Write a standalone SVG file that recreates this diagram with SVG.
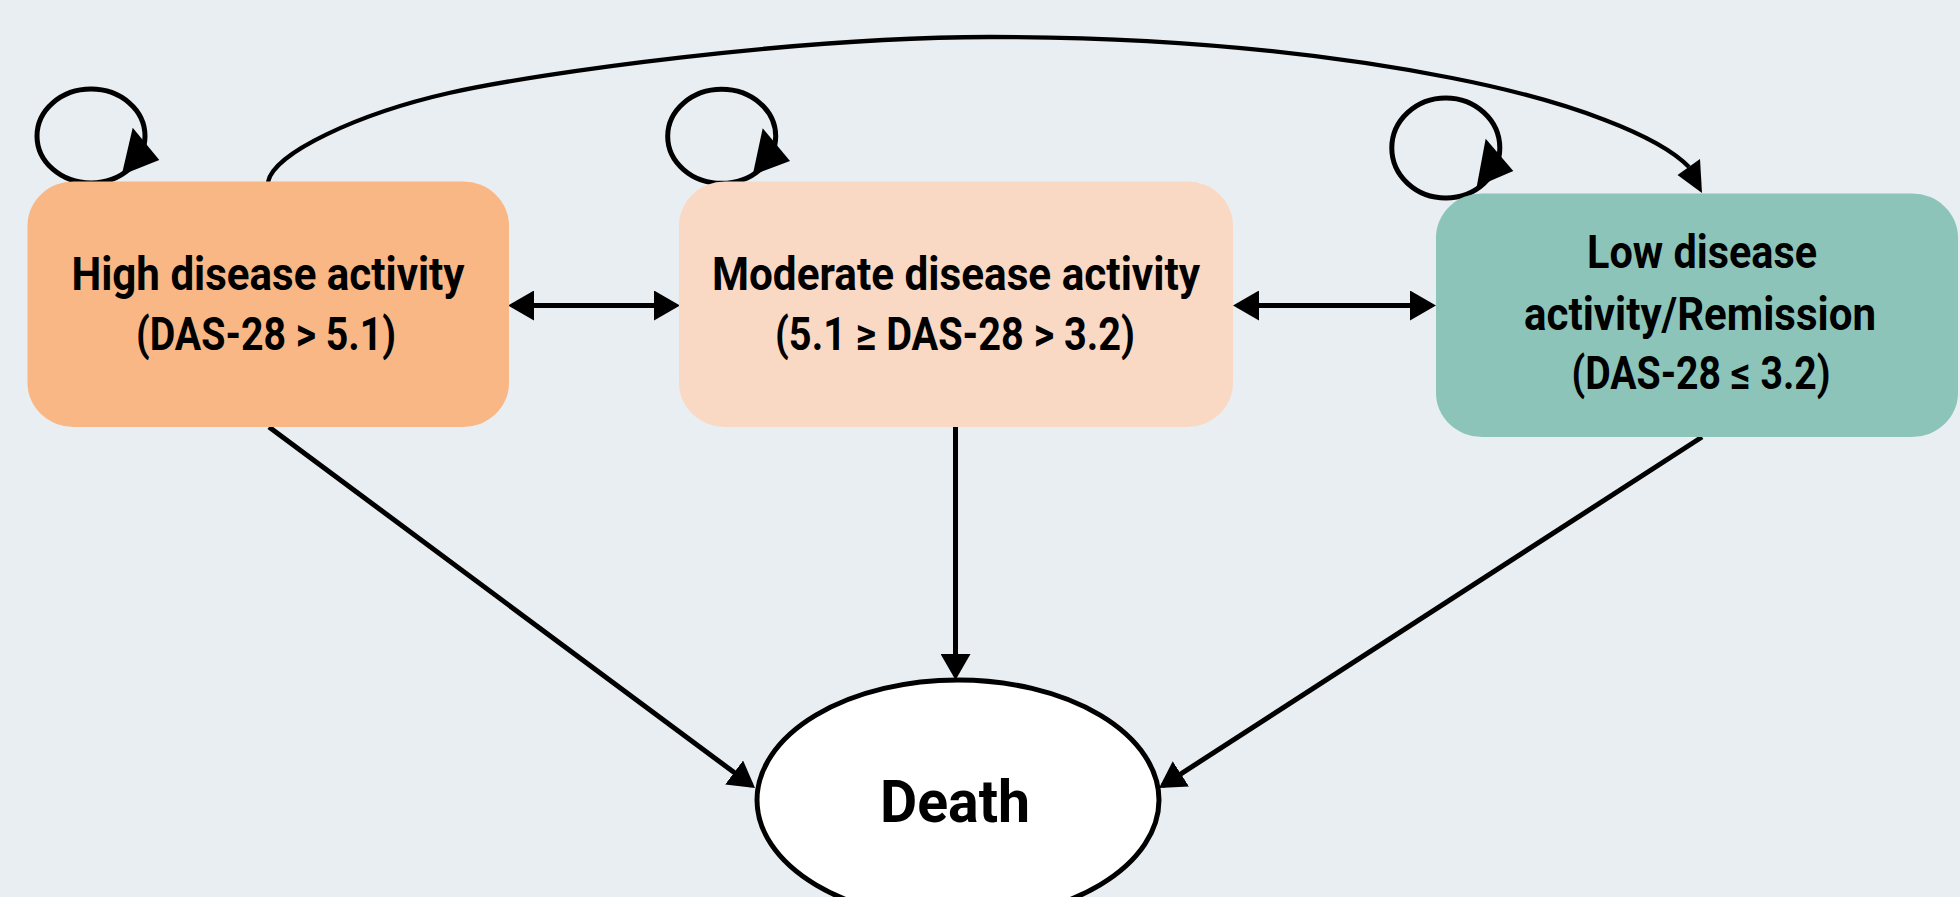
<svg xmlns="http://www.w3.org/2000/svg" width="1960" height="897" viewBox="0 0 1960 897">
  <style>
    .lbl { font-family: Roboto, "Liberation Sans", sans-serif; font-weight: bold; font-size: 46px; fill: #000; text-anchor: middle; }
    .death { font-family: Roboto, "Liberation Sans", sans-serif; font-weight: bold; font-size: 60px; fill: #000; text-anchor: middle; }
    .edge { fill: none; stroke: #000; stroke-width: 5; }
    .curve { fill: none; stroke: #000; stroke-width: 4.3; }
    .loop { fill: none; stroke: #000; stroke-width: 5; }
    .head { fill: #000; stroke: none; }
  </style>
  <defs>
    <marker id="arr" markerUnits="userSpaceOnUse" markerWidth="26" markerHeight="30" viewBox="0 0 26 30" refX="22" refY="15" orient="auto-start-reverse">
      <path d="M0,0 L26,15 L0,30 z" fill="#000"/>
    </marker>
  </defs>
  <rect x="0" y="0" width="1960" height="897" fill="#E9EEF3"/>

  <g id="connectors">
    <!-- self loops -->
    <ellipse class="loop" cx="91" cy="136" rx="54" ry="47"/>
    <polygon class="head" points="132.7,127.7 159.3,160 121.7,175"/>
    <ellipse class="loop" cx="721.7" cy="136.3" rx="54" ry="47"/>
    <polygon class="head" points="762.7,128.3 790,161 752.7,175"/>
    <ellipse class="loop" cx="1445.8" cy="148" rx="54" ry="50"/>
    <polygon class="head" points="1485.7,138.7 1513.3,171 1476.7,186.7"/>
    <!-- long curve High -> Low -->
    <path class="curve" d="M268,182 C273,153 359,113.5 449,93 S800,37 990,37 S1332,54.5 1452,78 S1659,136 1689,167"/>
    <polygon class="head" points="1702,193 1700,159 1677.5,175"/>
    <!-- bidirectional -->
    <path class="edge" d="M512,305.5 L676,305.5" marker-start="url(#arr)" marker-end="url(#arr)"/>
    <path class="edge" d="M1237,305.5 L1432,305.5" marker-start="url(#arr)" marker-end="url(#arr)"/>
    <!-- to death -->
    <path class="edge" d="M269,427 L751.8,785.6" marker-end="url(#arr)"/>
    <path class="edge" d="M955.5,427 L955.5,676" marker-end="url(#arr)"/>
    <path class="edge" d="M1702,437 L1162.4,785.8" marker-end="url(#arr)"/>
  </g>

  <g id="node-high">
    <rect x="27.5" y="181.5" width="481.5" height="245.5" rx="46" ry="44" fill="#F8B784"/>
    <text class="lbl" x="268" y="290" textLength="393" lengthAdjust="spacingAndGlyphs">High disease activity</text>
    <text class="lbl" x="266" y="350" textLength="260" lengthAdjust="spacingAndGlyphs">(DAS-28 &gt; 5.1)</text>
  </g>

  <g id="node-moderate">
    <rect x="679" y="181.5" width="554" height="245.5" rx="46" ry="44" fill="#F9D9C3"/>
    <text class="lbl" x="956" y="290" textLength="488" lengthAdjust="spacingAndGlyphs">Moderate disease activity</text>
    <text class="lbl" x="955" y="350" textLength="360" lengthAdjust="spacingAndGlyphs">(5.1 ≥ DAS-28 &gt; 3.2)</text>
  </g>

  <g id="node-low">
    <rect x="1436" y="193.5" width="522" height="243.5" rx="46" ry="44" fill="#8CC4B9"/>
    <text class="lbl" x="1702" y="268" textLength="230" lengthAdjust="spacingAndGlyphs">Low disease</text>
    <text class="lbl" x="1700" y="330" textLength="352" lengthAdjust="spacingAndGlyphs">activity/Remission</text>
    <text class="lbl" x="1701" y="389" textLength="259" lengthAdjust="spacingAndGlyphs">(DAS-28 ≤ 3.2)</text>
  </g>

  <g id="node-death">
    <ellipse cx="958" cy="800" rx="201" ry="120" fill="#FFFFFF" stroke="#000" stroke-width="5"/>
    <text class="death" x="955" y="822" textLength="150" lengthAdjust="spacingAndGlyphs">Death</text>
  </g>
</svg>
